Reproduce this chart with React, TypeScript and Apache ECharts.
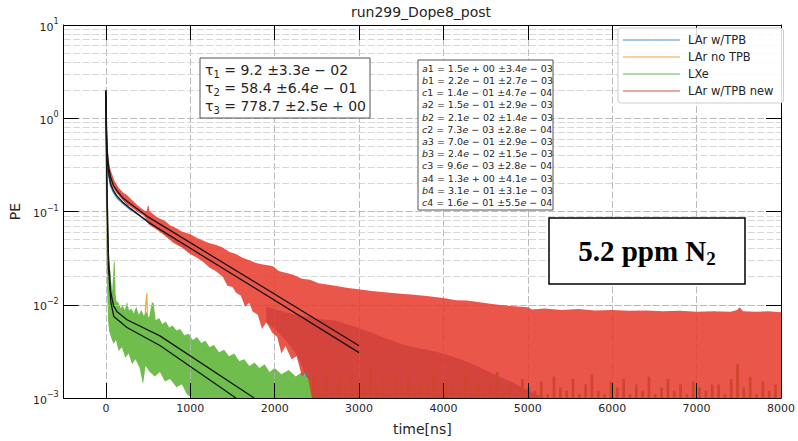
import React, { useEffect, useRef } from 'react';
import * as echarts from 'echarts';

const FONT = "'DejaVu Sans', sans-serif";
const SERIF = "'Liberation Serif', 'DejaVu Serif', serif";

const TITLE = 'run299_Dope8_post';
const X_LABEL = 'time[ns]';
const Y_LABEL = 'PE';
const X_MIN = -500;
const X_MAX = 8000;
const Y_MIN = 0.001;
const Y_MAX = 10;
const X_TICKS = [0, 1000, 2000, 3000, 4000, 5000, 6000, 7000, 8000];
const X_GRID = [0, 1000, 2000, 3000, 4000, 5000, 6000, 7000];
const Y_MAJOR = [0.01, 0.1, 1];
const Y_MINOR = [
  0.002, 0.003, 0.004, 0.005, 0.006, 0.007, 0.008, 0.009,
  0.02, 0.03, 0.04, 0.05, 0.06, 0.07, 0.08, 0.09,
  0.2, 0.3, 0.4, 0.5, 0.6, 0.7, 0.8, 0.9,
  2, 3, 4, 5, 6, 7, 8, 9,
];

const LEGEND_NAMES = ['LAr w/TPB', 'LAr no TPB', 'LXe', 'LAr w/TPB new'];
const LEGEND_COLORS = ['#86b7dc', '#f4c07e', '#92cf8f', '#e48a86'];

// tau fit results: [index, value, error mantissa, sign, exponent]
const TAU_LINES = [
  ['1', '9.2', '3.3', '−', '02'],
  ['2', '58.4', '6.4', '−', '01'],
  ['3', '778.7', '2.5', '+', '00'],
];

// parameter results: [letter, index, mantissa, sign, exp, err mantissa, err sign, err exp]
const PARAM_LINES = [
  ['a', '1', '1.5', '+', '00', '3.4', '−', '03'],
  ['b', '1', '2.2', '−', '01', '2.7', '−', '03'],
  ['c', '1', '1.4', '−', '01', '4.7', '−', '04'],
  ['a', '2', '1.5', '−', '01', '2.9', '−', '03'],
  ['b', '2', '2.1', '−', '02', '1.4', '−', '03'],
  ['c', '2', '7.3', '−', '03', '2.8', '−', '04'],
  ['a', '3', '7.0', '−', '01', '2.9', '−', '03'],
  ['b', '3', '2.4', '−', '02', '1.5', '−', '03'],
  ['c', '3', '9.6', '−', '03', '2.8', '−', '04'],
  ['a', '4', '1.3', '+', '00', '4.1', '−', '03'],
  ['b', '4', '3.1', '−', '01', '3.1', '−', '03'],
  ['c', '4', '1.6', '−', '01', '5.5', '−', '04'],
];

const PPM_TEXT = '5.2 ppm N';
const PPM_SUB = '2';

// LAr w/TPB (blue) visible part
const BLUE_LINE = [
  [0, 1.6], [3, 0.95], [8, 0.55], [15, 0.36], [30, 0.26], [55, 0.19], [90, 0.16],
  [133, 0.14], [200, 0.122], [290, 0.105], [380, 0.093], [440, 0.085], [485, 0.079],
  [520, 0.076], [700, 0.058], [1000, 0.037],
];
// LAr w/TPB tail noise hidden under red
const BLUE_TAIL_UPPER = [
  [1900, 0.0095], [2000, 0.009], [2128, 0.0083], [2250, 0.0078], [2400, 0.0074],
  [2550, 0.007], [2715, 0.0068], [2850, 0.0062], [3000, 0.0056], [3150, 0.005],
  [3300, 0.0044], [3500, 0.0038], [3650, 0.0035], [3800, 0.0033], [4000, 0.003],
  [4200, 0.0026], [4400, 0.0022], [4600, 0.0018], [4800, 0.0015], [5000, 0.0012],
  [5200, 0.001],
];
const BLUE_TAIL_LOWER = [
  [1900, 0.0065], [2000, 0.0055], [2128, 0.0042], [2250, 0.003], [2324, 0.0022],
  [2441, 0.001], [5200, 0.001],
];

// LAr no TPB (orange)
const ORANGE_LINE = [
  [0, 0.9], [5, 0.2], [15, 0.03], [30, 0.012], [45, 0.0055], [60, 0.0048], [75, 0.0066],
  [95, 0.005], [130, 0.0058], [180, 0.0045], [250, 0.004], [320, 0.0035], [400, 0.0032],
  [450, 0.003], [470, 0.0095], [485, 0.0132], [500, 0.004], [560, 0.0028], [700, 0.0025],
  [900, 0.002], [1200, 0.0016], [1500, 0.0013], [1800, 0.0012], [2200, 0.0011],
];

// LXe (green) noisy band
const GREEN_UPPER = [
  [0, 0.76], [4, 0.3], [10, 0.1], [18, 0.045], [28, 0.022], [40, 0.016], [52, 0.024],
  [62, 0.018], [75, 0.014], [85, 0.02], [95, 0.03], [105, 0.028], [115, 0.013],
  [125, 0.011], [150, 0.0105], [175, 0.0092], [200, 0.0098], [225, 0.0088], [250, 0.0108],
  [275, 0.0086], [300, 0.0092], [330, 0.0081], [360, 0.0095], [390, 0.0078], [420, 0.0088],
  [450, 0.0076], [480, 0.0084], [510, 0.0072], [545, 0.0106], [565, 0.0105], [590, 0.0068],
  [630, 0.0072], [670, 0.0062], [710, 0.0066], [750, 0.0057], [790, 0.006], [837, 0.0053],
  [880, 0.0055], [930, 0.0047], [980, 0.0049], [1030, 0.0042], [1080, 0.0045], [1130, 0.0039],
  [1180, 0.0041], [1229, 0.0035], [1280, 0.0037], [1340, 0.0031], [1400, 0.0033], [1460, 0.0028],
  [1520, 0.003], [1580, 0.0025], [1640, 0.0026], [1700, 0.0022], [1760, 0.0024], [1820, 0.0021],
  [1880, 0.0023], [1940, 0.0019], [2000, 0.0021], [2080, 0.0018], [2168, 0.002], [2250, 0.0017],
  [2324, 0.0019], [2400, 0.0016], [2441, 0.0015],
];
const GREEN_LOWER = [
  [0, 0.45], [4, 0.12], [10, 0.035], [18, 0.012], [28, 0.0065], [40, 0.0052], [60, 0.0045],
  [90, 0.0038], [120, 0.0042], [150, 0.0032], [190, 0.0035], [230, 0.0027], [270, 0.003],
  [310, 0.0023], [350, 0.0026], [400, 0.0021], [440, 0.0014], [470, 0.0022], [520, 0.0019],
  [580, 0.0017], [640, 0.0019], [700, 0.0015], [760, 0.0016], [837, 0.0013], [900, 0.0014],
  [960, 0.0011], [1020, 0.001], [2441, 0.001],
];
// low-level LXe / no-TPB tail spikes under the red band
const TAIL_START = 2460;
const TAIL_STEP = 75;
const TAIL_VALUES = [
  0.0017, 0.0013, 0.0019, 0.0012, 0.0016, 0.0014, 0.0018, 0.0012, 0.0015, 0.0021,
  0.0013, 0.0016, 0.0011, 0.0017, 0.0014, 0.0019, 0.0012, 0.0015, 0.0013, 0.0018,
  0.0011, 0.0016, 0.0014, 0.0012, 0.0017, 0.0013, 0.0015, 0.0011, 0.0016, 0.0019,
  0.0012, 0.0014, 0.0011, 0.0016, 0.0013, 0.0012, 0.0015, 0.0011, 0.0017, 0.0013,
  0.0012, 0.0016, 0.0011, 0.0014, 0.0018, 0.0012, 0.0011, 0.0015, 0.0013, 0.0016,
  0.0011, 0.0014, 0.0012, 0.0017, 0.0011, 0.0013, 0.0016, 0.0012, 0.0014, 0.0011,
  0.0015, 0.0013, 0.0012, 0.0014, 0.0014, 0.0011, 0.0016, 0.0023, 0.0013, 0.0017,
  0.0011, 0.0015, 0.0012, 0.0014,
];

// LAr w/TPB new (red) noisy band
const RED_UPPER = [
  [0, 2.57], [4, 1.4], [10, 0.8], [18, 0.5], [30, 0.37], [55, 0.28], [100, 0.215],
  [150, 0.18], [211, 0.158], [250, 0.15], [300, 0.135], [340, 0.125], [368, 0.118],
  [410, 0.11], [450, 0.103], [480, 0.1], [495, 0.113], [505, 0.117], [515, 0.101],
  [560, 0.094], [600, 0.088], [650, 0.083], [700, 0.079], [760, 0.071], [837, 0.066],
  [900, 0.061], [1000, 0.057], [1080, 0.052], [1150, 0.049], [1220, 0.046], [1300, 0.044],
  [1385, 0.041], [1460, 0.037], [1541, 0.035], [1620, 0.032], [1700, 0.03], [1780, 0.028],
  [1860, 0.027], [1972, 0.026], [2050, 0.023], [2128, 0.022], [2220, 0.021], [2324, 0.019],
  [2420, 0.0185], [2520, 0.017], [2620, 0.0165], [2715, 0.016], [2850, 0.0152], [2990, 0.0147],
  [3150, 0.014], [3300, 0.0136], [3498, 0.0131], [3650, 0.0128], [3800, 0.0124], [4000, 0.0118],
  [4150, 0.0112], [4280, 0.0111], [4450, 0.0106], [4600, 0.0101], [4800, 0.0097], [5000, 0.0094],
  [5050, 0.0089], [5200, 0.0091], [5400, 0.0088], [5600, 0.0090], [5800, 0.0087], [6000, 0.0088],
  [6200, 0.0086], [6400, 0.0087], [6600, 0.0085], [6800, 0.0086], [7000, 0.0084], [7200, 0.0085],
  [7400, 0.0084], [7480, 0.0088], [7510, 0.0094], [7550, 0.0085], [7700, 0.0084], [7850, 0.0085],
  [8000, 0.0083],
];
const RED_LOWER = [
  [0, 1.0], [4, 0.65], [10, 0.45], [18, 0.34], [30, 0.27], [55, 0.205], [100, 0.17],
  [150, 0.148], [211, 0.128], [250, 0.118], [300, 0.111], [380, 0.098], [450, 0.09],
  [505, 0.073], [600, 0.064], [700, 0.055], [800, 0.046], [900, 0.041], [994, 0.0352],
  [1080, 0.032], [1150, 0.029], [1230, 0.025], [1300, 0.023], [1385, 0.02], [1440, 0.016],
  [1500, 0.0155], [1541, 0.0135], [1600, 0.0125], [1650, 0.0095], [1700, 0.0105], [1737, 0.0085],
  [1800, 0.0078], [1850, 0.0055], [1900, 0.0065], [1972, 0.005], [2030, 0.0045], [2080, 0.003],
  [2128, 0.0036], [2200, 0.0026], [2260, 0.0028], [2324, 0.0017], [2380, 0.0019], [2441, 0.001],
  [8000, 0.001],
];

// fitted curves (black)
const FIT_RED = [
  [0, 2.0], [3, 1.3], [8, 0.75], [15, 0.47], [30, 0.31], [55, 0.235], [90, 0.19],
  [133, 0.166], [200, 0.14], [290, 0.121], [500, 0.0875], [3000, 0.00363],
];
const FIT_BLUE = [
  [0, 1.9], [3, 1.1], [8, 0.6], [15, 0.38], [30, 0.27], [55, 0.2], [90, 0.167],
  [133, 0.146], [200, 0.126], [290, 0.108], [500, 0.077], [3000, 0.00307],
];
const FIT_GREEN_A = [
  [0, 2.0], [5, 0.8], [15, 0.15], [30, 0.035], [55, 0.0141], [90, 0.0098], [133, 0.0084],
  [250, 0.0069], [640, 0.00464], [1757, 0.001],
];
const FIT_GREEN_B = [
  [0, 1.8], [5, 0.6], [15, 0.1], [30, 0.025], [60, 0.0105], [94, 0.0075], [250, 0.0057],
  [640, 0.00366], [1541, 0.001],
];

const COLORS = {
  blue: '#4b8fc4',
  blueTail: '#64789f',
  orange: '#f0aa3c',
  green: '#6fbd4d',
  tail: '#3a8a2c',
  red: 'rgba(232,58,45,0.86)',
  fit: '#151515',
  axis: '#000000',
  text: '#262626',
  gridMajor: '#b4b4b4',
  gridMinor: '#d2d2d2',
};

function bandSeries(name: string, upper: number[][], lower: number[][], color: string, z: number) {
  return {
    type: 'custom',
    name,
    z,
    silent: true,
    data: [[upper[0][0], upper[0][1]]],
    encode: { x: 0, y: 1 },
    renderItem: (_p: any, api: any) => {
      const pts = [...upper, ...lower.slice().reverse()].map(([t, v]) => api.coord([t, v]));
      return { type: 'polygon', shape: { points: pts }, style: { fill: color } };
    },
  };
}

function spikeSeries(data: number[][], color: string, z: number) {
  return {
    type: 'custom',
    z,
    silent: true,
    data,
    encode: { x: 0, y: 1 },
    renderItem: (_p: any, api: any) => {
      const top = api.coord([api.value(0), api.value(1)]);
      const bot = api.coord([api.value(0), Y_MIN]);
      return {
        type: 'line',
        shape: { x1: top[0], y1: top[1], x2: bot[0], y2: bot[1] },
        style: { stroke: color, lineWidth: 2.8 },
      };
    },
  };
}

function lineSeries(name: string, data: number[][], color: string, width: number, z: number) {
  return {
    type: 'line',
    name,
    data,
    z,
    silent: true,
    showSymbol: false,
    symbol: 'none',
    clip: true,
    lineStyle: { color, width },
    itemStyle: { color },
  };
}

function yLabel(v: number) {
  const e = Math.round(Math.log10(v));
  const s = e < 0 ? '−' + String(-e) : String(e);
  return `{b|10}{s|${s}}`;
}

function buildOption() {
  const tailData = TAIL_VALUES.map((v, i) => [TAIL_START + i * TAIL_STEP, v]);
  const dash = [7, 2.5];
  const gridLines: any[] = [
    ...X_GRID.map((t) => ({ xAxis: t, lineStyle: { color: COLORS.gridMajor, type: dash, width: 0.9 } })),
    ...Y_MINOR.map((v) => ({ yAxis: v, lineStyle: { color: COLORS.gridMinor, type: dash, width: 0.9 } })),
    ...Y_MAJOR.map((v) => ({ yAxis: v, lineStyle: { color: COLORS.gridMajor, type: dash, width: 0.9 } })),
  ];

  const baseText = { fill: COLORS.text, fontFamily: FONT };
  const tauRich = {
    sub: { fontSize: 10, fontFamily: FONT, fill: COLORS.text, color: COLORS.text, verticalAlign: 'bottom', lineHeight: 10 },
    it: { fontSize: 14, fontFamily: FONT, fontStyle: 'italic', fill: COLORS.text, color: COLORS.text, lineHeight: 18 },
  };
  const parRich = {
    it: { fontSize: 9.5, fontFamily: FONT, fontStyle: 'italic', fill: COLORS.text, color: COLORS.text, lineHeight: 12 },
  };

  const elements: any[] = [
    {
      type: 'text', x: 421, y: 12, z: 100, silent: true,
      style: { ...baseText, text: TITLE, fontSize: 14, align: 'center', verticalAlign: 'middle', textAlign: 'center', textVerticalAlign: 'middle' },
    },
    {
      type: 'rect', x: 200, y: 58, z: 100, silent: true,
      shape: { x: 0, y: 0, width: 170, height: 60 },
      style: { fill: '#ffffff', stroke: '#555555', lineWidth: 1 },
    },
    ...TAU_LINES.map((l, i) => ({
      type: 'text', x: 205, y: 70 + i * 18, z: 101, silent: true,
      style: {
        ...baseText, fontSize: 14, lineHeight: 18,
        text: `τ{sub|${l[0]}} = ${l[1]} ±${l[2]}{it|e} ${l[3]} ${l[4]}`,
        rich: tauRich, align: 'left', verticalAlign: 'middle', textAlign: 'left', textVerticalAlign: 'middle',
      },
    })),
    {
      type: 'rect', x: 418, y: 60, z: 100, silent: true,
      shape: { x: 0, y: 0, width: 135, height: 150 },
      style: { fill: '#ffffff', stroke: '#555555', lineWidth: 1 },
    },
    ...PARAM_LINES.map((l, i) => ({
      type: 'text', x: 422, y: 68.3 + i * 12.2, z: 101, silent: true,
      style: {
        ...baseText, fontSize: 9.5, lineHeight: 12,
        text: `{it|${l[0]}}${l[1]} = ${l[2]}{it|e} ${l[3]} ${l[4]} ±${l[5]}{it|e} ${l[6]} ${l[7]}`,
        rich: parRich, align: 'left', verticalAlign: 'middle', textAlign: 'left', textVerticalAlign: 'middle',
      },
    })),
    {
      type: 'rect', x: 549, y: 218, z: 100, silent: true,
      shape: { x: 0, y: 0, width: 196, height: 66 },
      style: { fill: '#ffffff', stroke: '#000000', lineWidth: 1.5 },
    },
    {
      type: 'text', x: 647, y: 251, z: 101, silent: true,
      style: {
        text: `${PPM_TEXT}{sub|${PPM_SUB}}`,
        fill: '#000000', fontFamily: SERIF, fontWeight: 'bold', fontSize: 29, lineHeight: 34,
        rich: { sub: { fontSize: 19, fontFamily: SERIF, fontWeight: 'bold', fill: '#000', color: '#000', verticalAlign: 'bottom', lineHeight: 17 } },
        align: 'center', verticalAlign: 'middle', textAlign: 'center', textVerticalAlign: 'middle',
      },
    },
  ];

  const axisLineStyle = { color: COLORS.axis, width: 1 };
  return {
    animation: false,
    backgroundColor: '#ffffff',
    grid: { left: 59, right: 15, top: 25, bottom: 30, containLabel: false },
    legend: {
      left: 618, top: 28, orient: 'vertical', z: 50,
      itemWidth: 57, itemHeight: 1.6, itemGap: 3,
      padding: [5, 10, 5, 5],
      borderColor: '#cccccc', borderWidth: 1, borderRadius: 3,
      backgroundColor: 'rgba(255,255,255,0.85)',
      selectedMode: false,
      textStyle: { fontSize: 11.5, color: COLORS.text, fontFamily: FONT, lineHeight: 14, padding: [0, 0, 0, 3] },
      data: LEGEND_NAMES.map((n, i) => ({ name: n, icon: 'rect', itemStyle: { color: LEGEND_COLORS[i] } })),
    },
    xAxis: [
      {
        type: 'value', min: X_MIN, max: X_MAX, position: 'bottom', z: 10,
        axisLine: { show: true, onZero: false, lineStyle: axisLineStyle },
        axisTick: { show: true, inside: true, length: 15, customValues: X_TICKS, lineStyle: axisLineStyle },
        axisLabel: {
          show: true, customValues: X_TICKS, fontSize: 11, color: COLORS.text, fontFamily: FONT, margin: 5,
          formatter: (v: number) => String(v),
        },
        splitLine: { show: false },
        name: X_LABEL, nameLocation: 'middle', nameGap: 24,
        nameTextStyle: { fontSize: 14, color: COLORS.text, fontFamily: FONT },
      },
      {
        type: 'value', min: X_MIN, max: X_MAX, position: 'top', z: 10,
        axisLine: { show: true, onZero: false, lineStyle: axisLineStyle },
        axisTick: { show: true, inside: true, length: 15, customValues: X_TICKS, lineStyle: axisLineStyle },
        axisLabel: { show: false },
        splitLine: { show: false },
      },
    ],
    yAxis: [
      {
        type: 'log', logBase: 10, min: Y_MIN, max: Y_MAX, position: 'left', z: 10,
        axisLine: { show: true, onZero: false, lineStyle: axisLineStyle },
        axisTick: { show: true, inside: true, length: 15, lineStyle: axisLineStyle },
        minorTick: { show: false },
        axisLabel: {
          show: true, margin: 5, formatter: yLabel,
          rich: {
            b: { fontSize: 11, fontFamily: FONT, color: COLORS.text, lineHeight: 15, verticalAlign: 'bottom' },
            s: { fontSize: 8, fontFamily: FONT, color: COLORS.text, lineHeight: 9, verticalAlign: 'top' },
          },
        },
        splitLine: { show: false },
        name: Y_LABEL, nameLocation: 'middle', nameGap: 28,
        nameTextStyle: { fontSize: 14, color: COLORS.text, fontFamily: FONT },
      },
      {
        type: 'log', logBase: 10, min: Y_MIN, max: Y_MAX, position: 'right', z: 10,
        axisLine: { show: true, onZero: false, lineStyle: axisLineStyle },
        axisTick: { show: true, inside: true, length: 15, lineStyle: axisLineStyle },
        axisLabel: { show: false },
        splitLine: { show: false },
      },
    ],
    series: [
      {
        type: 'line', data: [], z: 1, silent: true,
        markLine: {
          silent: true, symbol: ['none', 'none'], label: { show: false }, animation: false,
          emphasis: { disabled: true }, data: gridLines,
        },
      },
      lineSeries(LEGEND_NAMES[0], BLUE_LINE, COLORS.blue, 1.6, 2),
      bandSeries('', BLUE_TAIL_UPPER, BLUE_TAIL_LOWER, COLORS.blueTail, 2),
      lineSeries(LEGEND_NAMES[1], ORANGE_LINE, COLORS.orange, 1.3, 3),
      bandSeries(LEGEND_NAMES[2], GREEN_UPPER, GREEN_LOWER, COLORS.green, 4),
      spikeSeries(tailData, COLORS.tail, 4),
      bandSeries(LEGEND_NAMES[3], RED_UPPER, RED_LOWER, COLORS.red, 5),
      lineSeries('fitRed', FIT_RED, COLORS.fit, 1.3, 6),
      lineSeries('fitBlue', FIT_BLUE, COLORS.fit, 1.3, 6),
      lineSeries('fitGreenA', FIT_GREEN_A, COLORS.fit, 1.3, 6),
      lineSeries('fitGreenB', FIT_GREEN_B, COLORS.fit, 1.3, 6),
    ],
    graphic: { elements },
  };
}

export default function App() {
  const ref = useRef<HTMLDivElement>(null);
  useEffect(() => {
    document.body.style.margin = '0';
    const chart = echarts.init(ref.current as HTMLDivElement, null, { renderer: 'svg' });
    chart.setOption(buildOption() as any);
    return () => chart.dispose();
  }, []);
  return <div ref={ref} style={{ width: 798, height: 441 }} />;
}
